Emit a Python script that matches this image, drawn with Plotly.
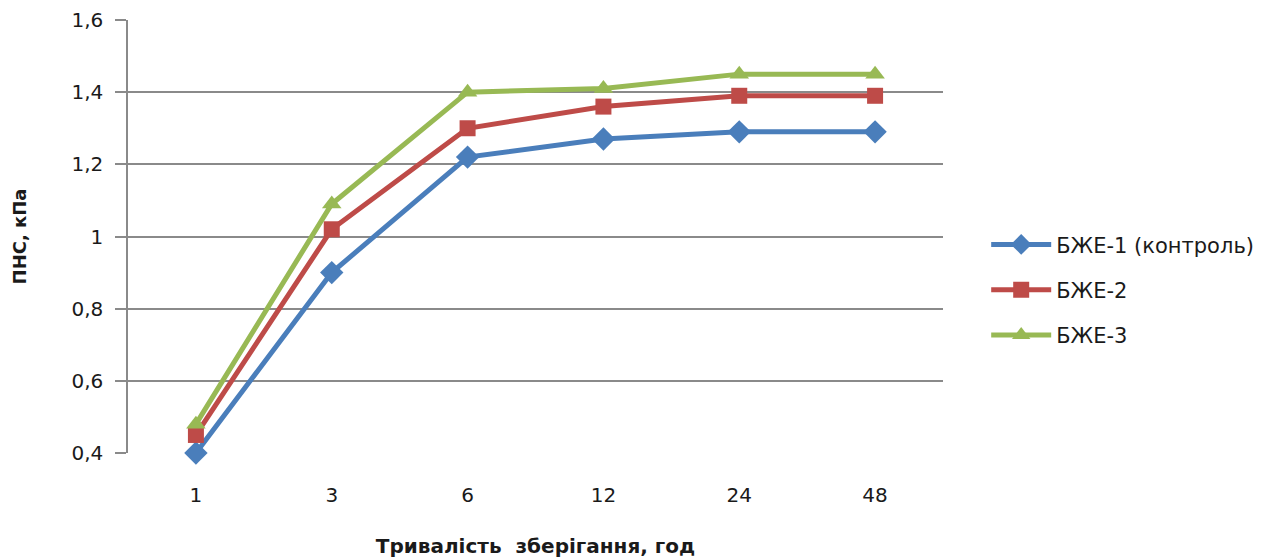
import plotly.graph_objects as go

# Storage duration categories (hours) and measured values, kPa
hours = ["1", "3", "6", "12", "24", "48"]
bzhe1 = [0.40, 0.90, 1.22, 1.27, 1.29, 1.29]
bzhe2 = [0.45, 1.02, 1.30, 1.36, 1.39, 1.39]
bzhe3 = [0.48, 1.09, 1.40, 1.41, 1.45, 1.45]

series = [
    ("БЖЕ-1 (контроль)", bzhe1, "#4A7EBB", "diamond", 18),
    ("БЖЕ-2", bzhe2, "#BE4B48", "square", 16),
    ("БЖЕ-3", bzhe3, "#98B954", "triangle-up", 17),
]

FONT = "DejaVu Sans"
GRID = "#8A8A8A"

fig = go.Figure()
for i, (name, vals, color, symbol, size) in enumerate(series):
    fig.add_trace(go.Scatter(
        x=hours, y=vals, name=name, mode="lines+markers",
        line=dict(color=color, width=5),
        marker=dict(symbol=symbol, size=size, color=color, line=dict(width=0)),
        cliponaxis=False, legendgroup=f"g{i}",
    ))

fig.update_layout(
    width=1283, height=559,
    margin=dict(l=128, r=340, t=20, b=106, autoexpand=False),
    paper_bgcolor="white", plot_bgcolor="white",
    separators=", ",
    font=dict(family=FONT, size=20, color="#1A1A1A"),
    showlegend=True,
    legend=dict(
        x=1.053, y=0.377, xanchor="left", yanchor="middle",
        font=dict(family=FONT, size=21, color="#1A1A1A"),
        traceorder="grouped", tracegroupgap=15, itemwidth=60,
        bgcolor="rgba(0,0,0,0)",
    ),
    xaxis=dict(
        type="category", range=[-0.5, 5.5], automargin=False,
        showgrid=False, zeroline=False, showline=False, ticks="",
        ticklabelstandoff=28,
        tickfont=dict(family=FONT, size=20),
        title=dict(text="<b>Тривалість  зберігання, год</b>", standoff=32,
                   font=dict(family=FONT, size=20)),
    ),
    yaxis=dict(
        range=[0.4, 1.6], dtick=0.2, tick0=0.4, automargin=False,
        showgrid=True, gridcolor=GRID, gridwidth=1.5,
        showline=True, linecolor=GRID, linewidth=1.5,
        ticks="outside", ticklen=11, tickcolor=GRID, tickwidth=1.5,
        zeroline=False,
        tickfont=dict(family=FONT, size=20),
        ticklabelstandoff=8,
        title=dict(text="<b>ПНС, кПа</b>", standoff=40,
                   font=dict(family=FONT, size=18)),
    ),
)

fig.write_html("out.html")
